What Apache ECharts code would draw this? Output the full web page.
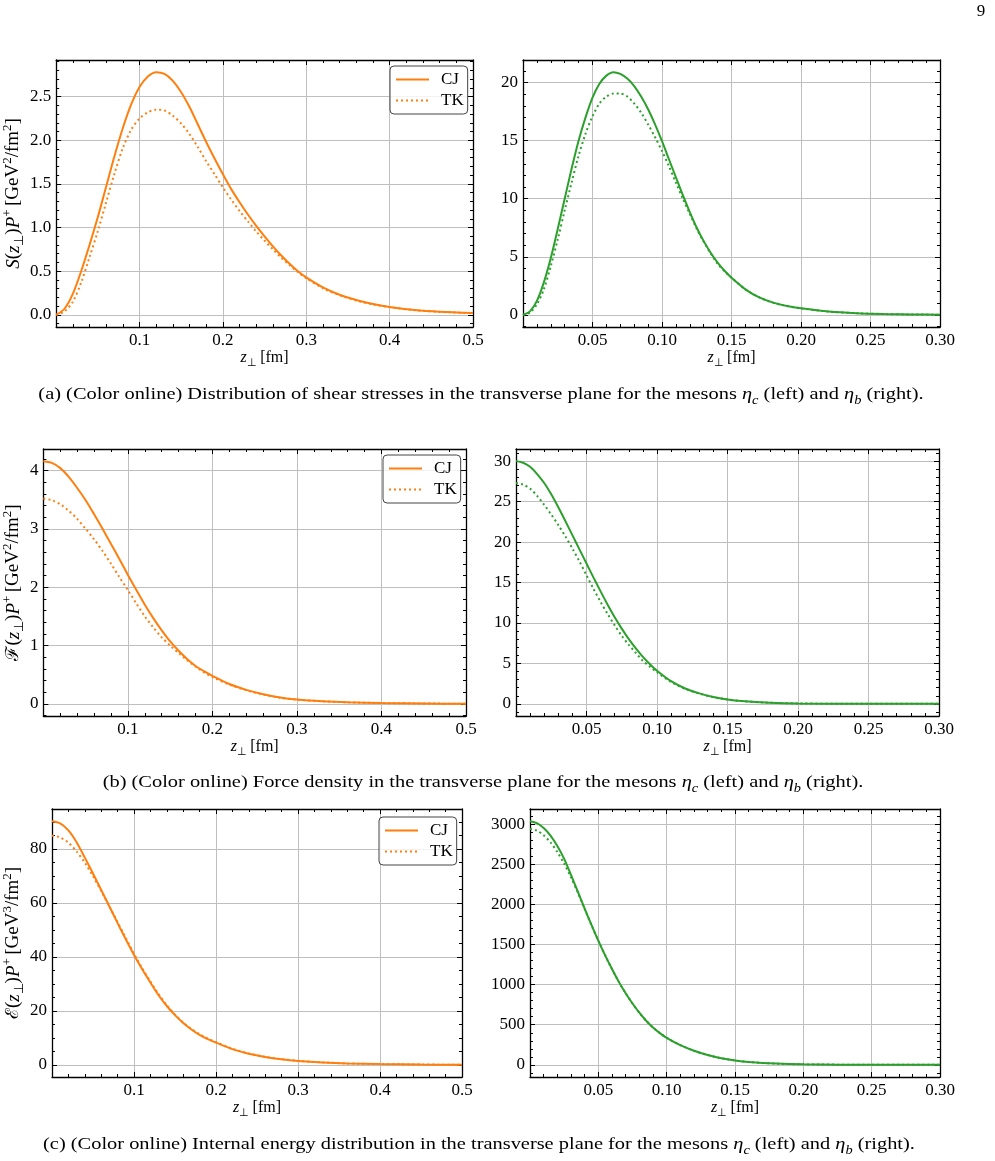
<!DOCTYPE html>
<html>
<head>
<meta charset="utf-8">
<script src="https://cdn.jsdelivr.net/npm/echarts@6/dist/echarts.min.js"></script>
<style>
  html, body { margin: 0; padding: 0; background: #fff; }
  #main { width: 995px; height: 1161px; }
</style>
</head>
<body>
<div id="main"></div>
<script>
// 横向平面分布: z 单位 fm, 数值
// (a) 剪切应力 S(z)P+
const zShearEtaC = [0, 0.01, 0.02, 0.03, 0.04, 0.05, 0.06, 0.07, 0.08, 0.09, 0.10, 0.11, 0.12, 0.13, 0.14, 0.15, 0.16, 0.17, 0.18, 0.19, 0.20,
  0.21, 0.22, 0.23, 0.24, 0.25, 0.26, 0.27, 0.28, 0.29, 0.30, 0.32, 0.34, 0.36, 0.38, 0.40, 0.43, 0.46, 0.50];
const shearCJ_etac = [0, 0.07, 0.24, 0.50, 0.80, 1.12, 1.47, 1.82, 2.14, 2.41, 2.61, 2.73, 2.78, 2.76, 2.68, 2.55, 2.38, 2.18, 1.98, 1.79, 1.61,
  1.44, 1.29, 1.15, 1.02, 0.90, 0.785, 0.68, 0.585, 0.50, 0.43, 0.315, 0.23, 0.17, 0.125, 0.09, 0.055, 0.035, 0.02];
const shearTK_etac = [0, 0.04, 0.15, 0.37, 0.66, 0.96, 1.29, 1.62, 1.91, 2.12, 2.25, 2.32, 2.35, 2.34, 2.28, 2.19, 2.07, 1.92, 1.76, 1.61, 1.46,
  1.32, 1.19, 1.07, 0.955, 0.85, 0.75, 0.655, 0.57, 0.49, 0.42, 0.305, 0.225, 0.165, 0.12, 0.088, 0.054, 0.034, 0.02];

const zShearEtaB = [0, 0.005, 0.01, 0.015, 0.02, 0.025, 0.03, 0.035, 0.04, 0.045, 0.05, 0.055, 0.06, 0.065, 0.07, 0.075, 0.08, 0.085, 0.09, 0.095,
  0.10, 0.105, 0.11, 0.115, 0.12, 0.125, 0.13, 0.135, 0.14, 0.145, 0.15, 0.16, 0.17, 0.18, 0.19, 0.20, 0.22, 0.24, 0.26, 0.28, 0.30];
const shearCJ_etab = [0, 0.3, 1.2, 2.8, 4.9, 7.4, 10.0, 12.6, 15.0, 17.0, 18.7, 19.9, 20.6, 20.9, 20.75, 20.35, 19.7, 18.8, 17.7, 16.4,
  14.95, 13.4, 11.85, 10.3, 8.85, 7.5, 6.35, 5.35, 4.5, 3.8, 3.2, 2.2, 1.5, 1.05, 0.76, 0.56, 0.28, 0.14, 0.07, 0.03, 0.015];
const shearTK_etab = [0, 0.2, 0.9, 2.2, 4.2, 6.5, 9.0, 11.4, 13.7, 15.6, 17.1, 18.2, 18.8, 19.05, 19.05, 18.8, 18.2, 17.4, 16.4, 15.3,
  14.1, 12.8, 11.4, 10.0, 8.7, 7.4, 6.3, 5.3, 4.4, 3.75, 3.2, 2.2, 1.5, 1.05, 0.76, 0.56, 0.28, 0.14, 0.07, 0.03, 0.015];

// (b) 力密度 F(z)P+
const zForceEtaC = [0, 0.01, 0.02, 0.03, 0.04, 0.05, 0.06, 0.07, 0.08, 0.09, 0.10, 0.11, 0.12, 0.13, 0.14, 0.15, 0.16, 0.17, 0.18, 0.19, 0.20,
  0.22, 0.24, 0.26, 0.28, 0.30, 0.33, 0.36, 0.40, 0.45, 0.50];
const forceCJ_etac = [4.16, 4.13, 4.04, 3.89, 3.70, 3.49, 3.25, 3.00, 2.74, 2.48, 2.21, 1.95, 1.70, 1.47, 1.26, 1.07, 0.91, 0.77, 0.65, 0.56, 0.48,
  0.34, 0.24, 0.165, 0.11, 0.075, 0.045, 0.027, 0.014, 0.006, 0.002];
const forceTK_etac = [3.52, 3.49, 3.42, 3.31, 3.17, 3.00, 2.82, 2.62, 2.40, 2.17, 1.95, 1.72, 1.50, 1.31, 1.14, 1.00, 0.87, 0.75, 0.64, 0.54, 0.46,
  0.33, 0.235, 0.16, 0.105, 0.072, 0.044, 0.026, 0.014, 0.006, 0.002];

const zForceEtaB = [0, 0.005, 0.01, 0.015, 0.02, 0.025, 0.03, 0.035, 0.04, 0.045, 0.05, 0.055, 0.06, 0.065, 0.07, 0.075, 0.08, 0.085, 0.09, 0.095,
  0.10, 0.11, 0.12, 0.13, 0.14, 0.15, 0.16, 0.18, 0.20, 0.25, 0.30];
const forceCJ_etab = [30.0, 29.8, 29.3, 28.4, 27.3, 25.9, 24.3, 22.6, 20.85, 19.1, 17.35, 15.6, 13.9, 12.25, 10.7, 9.3, 8.0, 6.85, 5.8, 4.9,
  4.1, 2.8, 1.9, 1.3, 0.85, 0.55, 0.35, 0.14, 0.05, 0.005, 0];
const forceTK_etab = [27.3, 27.1, 26.6, 25.7, 24.6, 23.4, 22.1, 20.7, 19.2, 17.6, 15.9, 14.2, 12.6, 11.1, 9.7, 8.4, 7.3, 6.3, 5.3, 4.6,
  3.9, 2.7, 1.85, 1.27, 0.83, 0.54, 0.34, 0.14, 0.05, 0.005, 0];

// (c) 内能 E(z)P+
const zEnergyEtaC = zForceEtaC;
const energyCJ_etac = [90.3, 89.5, 86.9, 82.5, 76.8, 70.9, 64.8, 58.7, 52.5, 46.5, 40.7, 35.4, 30.5, 25.8, 21.8, 18.4, 15.5, 13.1, 11.1, 9.5, 8.2,
  5.8, 4.1, 2.9, 2.05, 1.45, 0.88, 0.52, 0.26, 0.1, 0.04];
const energyTK_etac = [85.0, 84.3, 82.3, 79.1, 74.9, 69.9, 64.4, 58.7, 52.9, 47.0, 41.2, 35.8, 30.9, 26.2, 22.1, 18.6, 15.7, 13.3, 11.3, 9.7, 8.4,
  5.95, 4.2, 2.95, 2.1, 1.5, 0.9, 0.53, 0.26, 0.1, 0.04];

const zEnergyEtaB = zForceEtaB;
const energyCJ_etab = [3040, 3015, 2955, 2860, 2730, 2570, 2370, 2160, 1950, 1745, 1550, 1365, 1195, 1035, 893, 765, 650, 550, 466, 396,
  337, 245, 175, 122, 82, 55, 36, 15, 6, 0.5, 0];
const energyTK_etab = [2945, 2922, 2865, 2775, 2655, 2510, 2340, 2150, 1945, 1740, 1548, 1365, 1195, 1035, 893, 765, 650, 550, 466, 396,
  337, 245, 175, 122, 82, 55, 36, 15, 6, 0.5, 0];

const ORANGE = '#ff7f0e';
const GREEN = '#2ca02c';
const FONT = 'Liberation Serif';

function makeRich(big, small) {
  return {
    n: { fontFamily: FONT, fontSize: big, lineHeight: big + 6, color: '#000' },
    i: { fontFamily: FONT, fontSize: big, fontStyle: 'italic', lineHeight: big + 6, color: '#000' },
    sc: { fontFamily: 'DejaVu Serif', fontSize: big - 1, lineHeight: big + 6, color: '#000' },
    sub: { fontFamily: FONT, fontSize: small, lineHeight: small, verticalAlign: 'bottom', color: '#000' },
    subi: { fontFamily: FONT, fontSize: small, fontStyle: 'italic', lineHeight: small, verticalAlign: 'bottom', color: '#000' },
    sup: { fontFamily: FONT, fontSize: small, lineHeight: small, verticalAlign: 'top', color: '#000' }
  };
}
const richX = makeRich(16, 11);
const richY = makeRich(19, 13);
const richCap = makeRich(17, 12);

const zName = '{i|z}{sub|⊥} {n|[fm]}';
const tail = '{n|(}{i|z}{sub|⊥}{n|)}{i|P}{sup|+} {n|[GeV}{sup|2}{n|/fm}{sup|2}{n|]}';
const tailE = '{n|(}{i|z}{sub|⊥}{n|)}{i|P}{sup|+} {n|[GeV}{sup|3}{n|/fm}{sup|2}{n|]}';

// 每个子图: 位置 [left, top, width, height]
const panels = [
  { box: [56, 60, 417, 267], xMax: 0.5, xStep: 0.1, xDec: 1, yExt: [-0.139, 2.919], yStep: 0.5, yDec: 1, yMinor: 5,
    color: ORANGE, z: zShearEtaC, cj: shearCJ_etac, tk: shearTK_etac, yName: '{i|S}' + tail, yGap: 29, legend: [390, 66] },
  { box: [523, 60, 417, 267], xMax: 0.3, xStep: 0.05, xDec: 2, yExt: [-1.045, 21.945], yStep: 5, yDec: 0, yMinor: 5,
    color: GREEN, z: zShearEtaB, cj: shearCJ_etab, tk: shearTK_etab },
  { box: [42, 449, 424, 267], xMax: 0.5, xStep: 0.1, xDec: 1, yExt: [-0.208, 4.368], yStep: 1, yDec: 0, yMinor: 5,
    color: ORANGE, z: zForceEtaC, cj: forceCJ_etac, tk: forceTK_etac, yName: '{sc|ℱ}' + tail, yGap: 15, legend: [383, 455] },
  { box: [516, 449, 423, 267], xMax: 0.3, xStep: 0.05, xDec: 2, yExt: [-1.5, 31.5], yStep: 5, yDec: 0, yMinor: 5,
    color: GREEN, z: zForceEtaB, cj: forceCJ_etab, tk: forceTK_etab },
  { box: [52, 809, 410, 268], xMax: 0.5, xStep: 0.1, xDec: 1, yExt: [-4.515, 94.815], yStep: 20, yDec: 0, yMinor: 4,
    color: ORANGE, z: zEnergyEtaC, cj: energyCJ_etac, tk: energyTK_etac, yName: '{sc|ℰ}' + tailE, yGap: 26, legend: [379, 817] },
  { box: [530, 809, 410, 268], xMax: 0.3, xStep: 0.05, xDec: 2, yExt: [-152, 3192], yStep: 500, yDec: 0, yMinor: 5,
    color: GREEN, z: zEnergyEtaB, cj: energyCJ_etab, tk: energyTK_etab }
];

const captions = [
  { x: 481, y: 395, label: '(a) (Color online) Distribution of shear stresses in the transverse plane for the mesons ' },
  { x: 483, y: 783, label: '(b) (Color online) Force density in the transverse plane for the mesons ' },
  { x: 479, y: 1145, label: '(c) (Color online) Internal energy distribution in the transverse plane for the mesons ' }
];

const grid = [], xAxis = [], yAxis = [], series = [], legend = [];
const frameLine = { onZero: false, lineStyle: { color: '#000', width: 1.3 } };
const inTick = { inside: true, length: 5, lineStyle: { color: '#000' } };

panels.forEach(function (p, k) {
  grid.push({ left: p.box[0], top: p.box[1], width: p.box[2], height: p.box[3], containLabel: false });

  const xBase = {
    type: 'value', gridIndex: k, min: 0, max: p.xMax, interval: p.xStep,
    axisLine: frameLine, axisTick: inTick,
    minorTick: { show: true, splitNumber: 5, length: 3, lineStyle: { color: '#000' } }
  };
  xAxis.push(Object.assign({}, xBase, {
    position: 'bottom',
    name: zName, nameLocation: 'middle', nameGap: 20, nameTextStyle: { rich: richX },
    axisLabel: { margin: 5, showMinLabel: false, fontFamily: FONT, fontSize: 17, color: '#000',
      formatter: function (v) { return v.toFixed(p.xDec); } },
    splitLine: { show: true, lineStyle: { color: '#bfbfbf', width: 1 } }
  }));
  xAxis.push(Object.assign({}, xBase, {
    position: 'top', axisLabel: { show: false }, splitLine: { show: false }
  }));

  const yBase = {
    type: 'value', gridIndex: k, min: p.yExt[0], max: p.yExt[1], minInterval: p.yStep, maxInterval: p.yStep,
    axisLine: frameLine, axisTick: inTick,
    minorTick: { show: true, splitNumber: p.yMinor, length: 3, lineStyle: { color: '#000' } }
  };
  const yLeft = Object.assign({}, yBase, {
    position: 'left',
    axisLabel: { margin: 5, showMinLabel: false, showMaxLabel: false, fontFamily: FONT, fontSize: 17, color: '#000',
      formatter: function (v) { return v.toFixed(p.yDec); } },
    splitLine: { show: true, lineStyle: { color: '#bfbfbf', width: 1 } }
  });
  if (p.yName) {
    yLeft.name = p.yName;
    yLeft.nameLocation = 'middle';
    yLeft.nameGap = p.yGap;
    yLeft.nameTextStyle = { rich: richY };
  }
  yAxis.push(yLeft);
  yAxis.push(Object.assign({}, yBase, {
    position: 'right', axisLabel: { show: false }, splitLine: { show: false }
  }));

  const left = p.color === ORANGE;
  series.push({
    name: left ? 'CJ' : 'CJ ηb', type: 'line', xAxisIndex: 2 * k, yAxisIndex: 2 * k,
    data: p.z.map(function (z, i) { return [z, p.cj[i]]; }),
    symbol: 'none', smooth: 0.3,
    lineStyle: { color: p.color, width: 2 }, itemStyle: { color: p.color }, z: 3
  });
  series.push({
    name: left ? 'TK' : 'TK ηb', type: 'line', xAxisIndex: 2 * k, yAxisIndex: 2 * k,
    data: p.z.map(function (z, i) { return [z, p.tk[i]]; }),
    symbol: 'none', smooth: 0.3,
    lineStyle: { color: p.color, width: 2, type: [2, 3] }, itemStyle: { color: p.color }, z: 3
  });

  if (p.legend) {
    legend.push({
      data: ['CJ', 'TK'], orient: 'vertical', left: p.legend[0], top: p.legend[1],
      selectedMode: false, itemWidth: 33, itemHeight: 10, itemGap: 4,
      itemStyle: { opacity: 0 },
      padding: [5, 4, 5, 5], borderColor: '#444', borderWidth: 1, borderRadius: 4,
      backgroundColor: 'rgba(255,255,255,0.8)',
      textStyle: { fontFamily: FONT, fontSize: 17, color: '#000', padding: [0, 0, 0, 7] }
    });
  }
});

const graphic = captions.map(function (c) {
  return {
    type: 'text', x: c.x, y: c.y, scaleX: 1.2,
    style: {
      text: '{n|' + c.label + '}{i|η}{subi|c}{n| (left) and }{i|η}{subi|b}{n| (right).}',
      rich: richCap, align: 'center', verticalAlign: 'middle'
    }
  };
});
graphic.push({ type: 'text', x: 981, y: 12,
  style: { text: '9', fontFamily: FONT, fontSize: 17, fill: '#000', align: 'center', verticalAlign: 'middle' } });

const chart = echarts.init(document.getElementById('main'));
chart.setOption({
  animation: false,
  backgroundColor: '#fff',
  grid: grid,
  xAxis: xAxis,
  yAxis: yAxis,
  legend: legend,
  series: series,
  graphic: graphic
});
</script>
</body>
</html>
